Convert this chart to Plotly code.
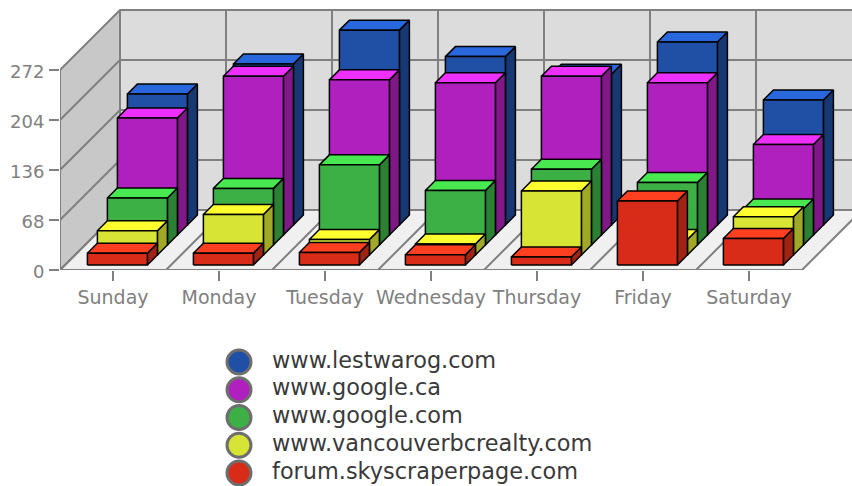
import plotly.graph_objects as go

categories = ["Sunday", "Monday", "Tuesday", "Wednesday", "Thursday", "Friday", "Saturday"]
y_ticks = [0, 68, 136, 204, 272]

# series, front to back
forum_skyscraperpage = [16, 16, 17, 14, 11, 87, 36]
vancouverbcrealty = [33, 55, 21, 15, 87, 21, 52]
google_com = [64, 77, 109, 74, 103, 85, 49]
google_ca = [159, 216, 211, 207, 216, 207, 123]
lestwarog = [178, 219, 265, 229, 205, 249, 170]

legend_names = ["www.lestwarog.com", "www.google.ca", "www.google.com",
                "www.vancouverbcrealty.com", "forum.skyscraperpage.com"]

# (values, front colour, top colour, side colour), drawn back to front
series = [
    (lestwarog, "#2050A6", "#2868DC", "#183874"),
    (google_ca, "#B020BE", "#EE30FF", "#801888"),
    (google_com, "#3CB044", "#48E850", "#2C8034"),
    (vancouverbcrealty, "#D8E434", "#FFFF30", "#A0A828"),
    (forum_skyscraperpage, "#D82C18", "#FF4020", "#A02414"),
]

W, H = 852, 486
M_L, M_T = 60, 5
BASE_Y = 270
PX_CAT = 106.0
PX_VAL = 200.0 / 272.0
DEPTH = 60.0
BAR_W = 60.0
BAR_D = 10.0
BAR_SHIFT = -0.6
GRID = "#808080"


def pr(cat, val, z):
    """Oblique projection: a depth of z px moves a point right and up."""
    return cat + z / PX_CAT, val + z / PX_VAL


def polys(items):
    xs, ys = [], []
    for poly in items:
        for c, v, z in poly + [poly[0]]:
            x, y = pr(c, v, z)
            xs.append(x)
            ys.append(y)
        xs.append(None)
        ys.append(None)
    return xs, ys


fig = go.Figure()


def fill(items, color, line_color, width):
    xs, ys = polys(items)
    fig.add_trace(go.Scatter(
        x=xs, y=ys, mode="lines", fill="toself", fillcolor=color,
        line=dict(color=line_color, width=width), hoverinfo="skip",
        showlegend=False, cliponaxis=False))


def lines(segments, width=2):
    xs, ys = [], []
    for seg in segments:
        for c, v, z in seg:
            x, y = pr(c, v, z)
            xs.append(x)
            ys.append(y)
        xs.append(None)
        ys.append(None)
    fig.add_trace(go.Scatter(
        x=xs, y=ys, mode="lines", line=dict(color=GRID, width=width),
        hoverinfo="skip", showlegend=False, cliponaxis=False))


n = len(categories)
x0, x1 = -0.5, n - 0.5
top = y_ticks[-1]

fill([[(x0, 0, DEPTH), (x1, 0, DEPTH), (x1, top, DEPTH), (x0, top, DEPTH)]], "#DCDCDC", "rgba(0,0,0,0)", 0)
fill([[(x0, 0, 0), (x0, 0, DEPTH), (x0, top, DEPTH), (x0, top, 0)]], "#C8C8C8", "rgba(0,0,0,0)", 0)
fill([[(x0, 0, 0), (x1, 0, 0), (x1, 0, DEPTH), (x0, 0, DEPTH)]], "#F0F0F0", "rgba(0,0,0,0)", 0)

segs = []
for t in y_ticks:
    segs.append([(x0, t, 0), (x0, t, DEPTH), (x1, t, DEPTH)])
for j in range(n + 1):
    segs.append([(x0 + j, 0, 0), (x0 + j, 0, DEPTH), (x0 + j, top, DEPTH)])
segs.append([(x0, 0, 0), (x0, top, 0)])
segs.append([(x0, 0, 0), (x1, 0, 0)])
lines(segs)

hw = BAR_W / 2 / PX_CAT
shift = BAR_SHIFT / PX_CAT
for s, (vals, c_front, c_top, c_side) in enumerate(series):
    z0 = 5 + BAR_D * (len(series) - 1 - s)
    z1 = z0 + BAR_D
    fronts, tops, sides = [], [], []
    for i, v in enumerate(vals):
        a, b = i + shift - hw, i + shift + hw
        fronts.append([(a, 0, z0), (b, 0, z0), (b, v, z0), (a, v, z0)])
        tops.append([(a, v, z0), (b, v, z0), (b, v, z1), (a, v, z1)])
        sides.append([(b, 0, z0), (b, 0, z1), (b, v, z1), (b, v, z0)])
    fill(sides, c_side, "#000000", 1.5)
    fill(tops, c_top, "#000000", 1.5)
    fill(fronts, c_front, "#000000", 1.5)

# legend drawn on its own small axes below the chart
legend_colors = [s[1] for s in series]
rows = list(range(len(legend_names)))
fig.add_trace(go.Scatter(
    x=[239] * len(rows), y=rows, mode="markers", xaxis="x2", yaxis="y2",
    marker=dict(size=24, color=legend_colors, line=dict(color="#6E6E6E", width=3)),
    hoverinfo="skip", showlegend=False, cliponaxis=False))
fig.add_trace(go.Scatter(
    x=[272] * len(rows), y=rows, mode="text", xaxis="x2", yaxis="y2",
    text=legend_names, textposition="middle right",
    textfont=dict(family="DejaVu Sans", size=22.4, color="#3A3A3A"),
    hoverinfo="skip", showlegend=False, cliponaxis=False))

plot_h = H - M_T
split = (H - BASE_Y) / plot_h
leg_top_px, leg_bot_px = 362.0, 473.0  # row centres
fig.update_layout(
    width=W, height=H, autosize=False,
    margin=dict(l=M_L, r=0, t=M_T, b=0),
    paper_bgcolor="white", plot_bgcolor="rgba(0,0,0,0)",
    showlegend=False,
    xaxis=dict(
        domain=[0, 1], range=[x0, x0 + (W - M_L) / PX_CAT],
        tickmode="array", tickvals=list(range(n)), ticktext=categories,
        ticks="outside", ticklen=10, tickwidth=2, tickcolor=GRID,
        showgrid=False, zeroline=False, showline=False, automargin=False,
        tickfont=dict(family="DejaVu Sans", size=19, color="#808080"),
        anchor="y",
    ),
    yaxis=dict(
        domain=[split, 1], range=[0, (BASE_Y - M_T) / PX_VAL],
        tickmode="array", tickvals=y_ticks,
        ticks="outside", ticklen=10, tickwidth=2, tickcolor=GRID,
        showgrid=False, zeroline=False, showline=False, automargin=False,
        ticklabelstandoff=1, ticklabelshift=2,
        tickfont=dict(family="DejaVu Sans", size=18, color="#808080"),
        anchor="x",
    ),
    xaxis2=dict(domain=[0, 1], range=[M_L, W], visible=False, anchor="y2", automargin=False),
    yaxis2=dict(
        domain=[(H - leg_bot_px) / plot_h, (H - leg_top_px) / plot_h],
        range=[len(rows) - 1, 0], visible=False, anchor="x2", automargin=False,
    ),
)

fig.write_html("out.html", config={"displayModeBar": False},
               post_script="document.body.style.margin='0';document.body.style.overflow='hidden';")
